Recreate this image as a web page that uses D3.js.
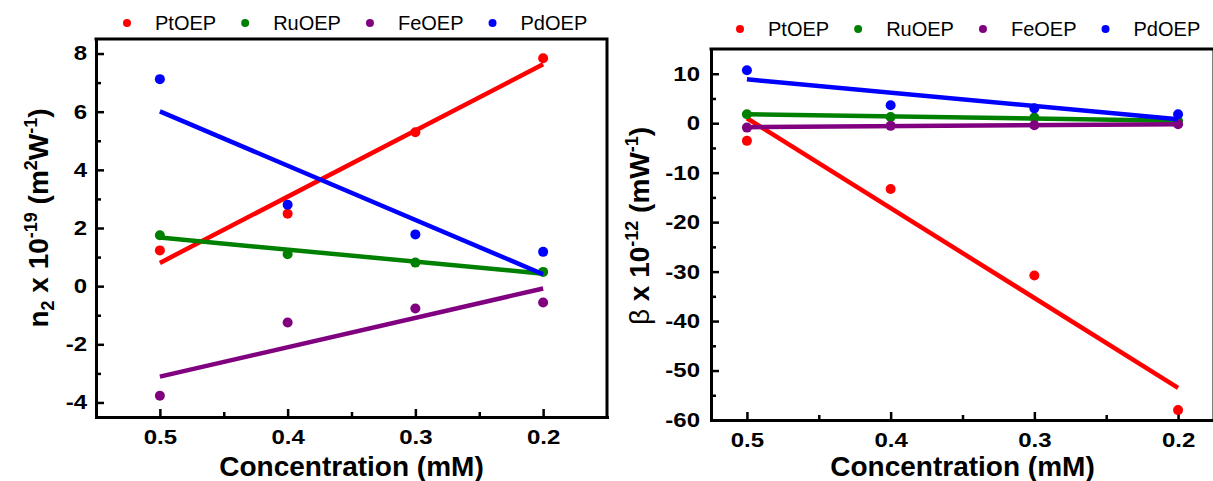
<!DOCTYPE html>
<html><head><meta charset="utf-8">
<script src="https://cdn.jsdelivr.net/npm/d3@7"></script>
<style>
html,body{margin:0;padding:0;background:#fff;}
svg{display:block;}
text{font-family:"Liberation Sans",Arial,sans-serif;}
</style></head>
<body><div id="chart"></div>
<script>
// ---------- data ----------
const series = ["PtOEP", "RuOEP", "FeOEP", "PdOEP"];
const colors = ["#ff0000", "#008000", "#800080", "#0000ff"];
const concentrations = [0.5, 0.4, 0.3, 0.2];
const fitEnds = [0.5, 0.2];
const concTicks = [0.5, 0.4, 0.3, 0.2];
const concMinorTicks = [0.45, 0.35, 0.25];

// n2 x 10^-19 (m^2 W^-1)
const n2_PtOEP = [1.23, 2.49, 5.29, 7.84];
const n2_RuOEP = [1.75, 1.10, 0.81, 0.49];
const n2_FeOEP = [-3.77, -1.25, -0.77, -0.56];
const n2_PdOEP = [7.12, 2.80, 1.78, 1.18];
const n2Fit_PtOEP = [0.80, 7.63];
const n2Fit_RuOEP = [1.67, 0.43];
const n2Fit_FeOEP = [-3.11, -0.08];
const n2Fit_PdOEP = [6.01, 0.41];
const n2Ticks = [-4, -2, 0, 2, 4, 6, 8];
const n2MinorTicks = [-3, -1, 1, 3, 5, 7];

// beta x 10^-12 (m W^-1)
const beta_PtOEP = [-3.57, -13.3, -30.8, -58.0];
const beta_RuOEP = [1.81, 1.27, 1.13, 0.46];
const beta_FeOEP = [-0.89, -0.54, -0.40, -0.20];
const beta_PdOEP = [10.7, 3.63, 3.0, 1.8];
const betaFit_PtOEP = [1.0, -53.5];
const betaFit_RuOEP = [1.8, 0.5];
const betaFit_FeOEP = [-0.8, -0.2];
const betaFit_PdOEP = [8.87, 0.8];
const betaTicks = [-60, -50, -40, -30, -20, -10, 0, 10];
const betaMinorTicks = [-55, -45, -35, -25, -15, -5, 5];

// ---------- drawing ----------
const W = 1213, H = 481;
const svg = d3.select("#chart").append("svg").attr("width", W).attr("height", H);
svg.append("rect").attr("width", W).attr("height", H).attr("fill", "#fff");

const TICK_SX = 1.2;
const fmtTick = d => String(d);
const fmtConc = d => d.toFixed(1);

function drawPanel(cfg) {
  const x = d3.scaleLinear().domain(cfg.xDomain).range([cfg.left, cfg.right]);
  const y = d3.scaleLinear().domain(cfg.yDomain).range([cfg.bottom, cfg.top]);
  const g = svg.append("g");

  // frame top + right
  g.append("path")
    .attr("d", `M${cfg.left},${cfg.top}H${cfg.right}V${cfg.bottom}`)
    .attr("fill", "none").attr("stroke", "#000").attr("stroke-width", 3)
    .attr("stroke-linecap", "square");

  // x axis
  const gx = g.append("g").attr("transform", `translate(0,${cfg.bottom})`)
    .call(d3.axisBottom(x).tickValues(concTicks).tickFormat(fmtConc)
      .tickSizeInner(-8).tickSizeOuter(0).tickPadding(13));
  gx.append("g").call(d3.axisBottom(x).tickValues(concMinorTicks).tickFormat("")
      .tickSizeInner(-5).tickSizeOuter(0))
    .call(a => { a.select(".domain").remove(); a.selectAll("text").remove(); });
  // y axis
  const gy = g.append("g").attr("transform", `translate(${cfg.left},0)`)
    .call(d3.axisLeft(y).tickValues(cfg.yTicks).tickFormat(fmtTick)
      .tickSizeInner(-8).tickSizeOuter(0).tickPadding(cfg.yPad));
  gy.append("g").call(d3.axisLeft(y).tickValues(cfg.yMinor).tickFormat("")
      .tickSizeInner(-5).tickSizeOuter(0))
    .call(a => { a.select(".domain").remove(); a.selectAll("text").remove(); });

  [gx, gy].forEach(a => {
    a.selectAll(".domain").attr("stroke-width", 3).attr("stroke-linecap", "square");
    a.selectAll(".tick line").attr("stroke-width", 2.5);
    a.selectAll("text")
      .attr("font-family", "'Liberation Sans', Arial, sans-serif")
      .attr("font-size", 20).attr("font-weight", "bold").attr("fill", "#000");
  });
  gx.selectAll(".tick text").attr("transform", `scale(${TICK_SX},1)`);
  gy.selectAll(".tick text")
    .attr("x", -cfg.yPad / TICK_SX)
    .attr("transform", `scale(${TICK_SX},1)`);

  // series
  cfg.data.forEach((vals, i) => {
    const fit = cfg.fits[i];
    g.append("line")
      .attr("x1", x(fitEnds[0])).attr("y1", y(fit[0]))
      .attr("x2", x(fitEnds[1])).attr("y2", y(fit[1]))
      .attr("stroke", colors[i]).attr("stroke-width", 4.5);
    g.selectAll(null).data(vals).enter().append("circle")
      .attr("cx", (d, j) => x(concentrations[j]))
      .attr("cy", d => y(d))
      .attr("r", 5).attr("fill", colors[i]);
  });

  // legend
  let lx = cfg.legX;
  series.forEach((s, i) => {
    g.append("circle").attr("cx", lx).attr("cy", cfg.legY - 7).attr("r", 4).attr("fill", colors[i]);
    const t = g.append("text").attr("x", lx + 28).attr("y", cfg.legY)
      .attr("font-size", 20).attr("fill", "#000").text(s);
    lx += 28 + t.node().getComputedTextLength() + 29;
  });

  // x title
  g.append("text")
    .attr("x", (cfg.left + cfg.right) / 2).attr("y", 476)
    .attr("text-anchor", "middle").attr("font-size", 28).attr("font-weight", "bold")
    .text("Concentration (mM)");

  // y title
  const yt = g.append("text")
    .attr("transform", `translate(${cfg.yTitleX},${cfg.yTitleY}) rotate(-90)`)
    .attr("text-anchor", "middle").attr("font-size", 28).attr("font-weight", "bold");
  cfg.yTitle(yt);
}

function sup(t, s) { t.append("tspan").attr("baseline-shift", "11").attr("font-size", 18).text(s); }
function sub(t, s) { t.append("tspan").attr("baseline-shift", "-6").attr("font-size", 18).text(s); }

drawPanel({
  left: 96, right: 607, top: 39, bottom: 417,
  xDomain: [0.55, 0.15], yDomain: [-4.5, 8.5],
  yTicks: n2Ticks, yMinor: n2MinorTicks, yPad: 9,
  data: [n2_PtOEP, n2_RuOEP, n2_FeOEP, n2_PdOEP],
  fits: [n2Fit_PtOEP, n2Fit_RuOEP, n2Fit_FeOEP, n2Fit_PdOEP],
  legX: 127, legY: 30,
  yTitleX: 48, yTitleY: 218,
  yTitle: t => {
    t.append("tspan").text("n");
    sub(t, "2");
    t.append("tspan").text(" x 10");
    sup(t, "-19");
    t.append("tspan").text(" (m");
    sup(t, "2");
    t.append("tspan").text("W");
    sup(t, "-1");
    t.append("tspan").text(")");
  }
});

drawPanel({
  left: 711, right: 1214, top: 49, bottom: 420,
  xDomain: [0.525, 0.175], yDomain: [-60, 15],
  yTicks: betaTicks, yMinor: betaMinorTicks, yPad: 11,
  data: [beta_PtOEP, beta_RuOEP, beta_FeOEP, beta_PdOEP],
  fits: [betaFit_PtOEP, betaFit_RuOEP, betaFit_FeOEP, betaFit_PdOEP],
  legX: 740, legY: 36,
  yTitleX: 649, yTitleY: 226,
  yTitle: t => {
    t.append("tspan").attr("font-weight", "normal").text("\u03B2");
    t.append("tspan").text(" x 10");
    sup(t, "-12");
    t.append("tspan").text(" (mW");
    sup(t, "-1");
    t.append("tspan").text(")");
  }
});
</script>
</body></html>
